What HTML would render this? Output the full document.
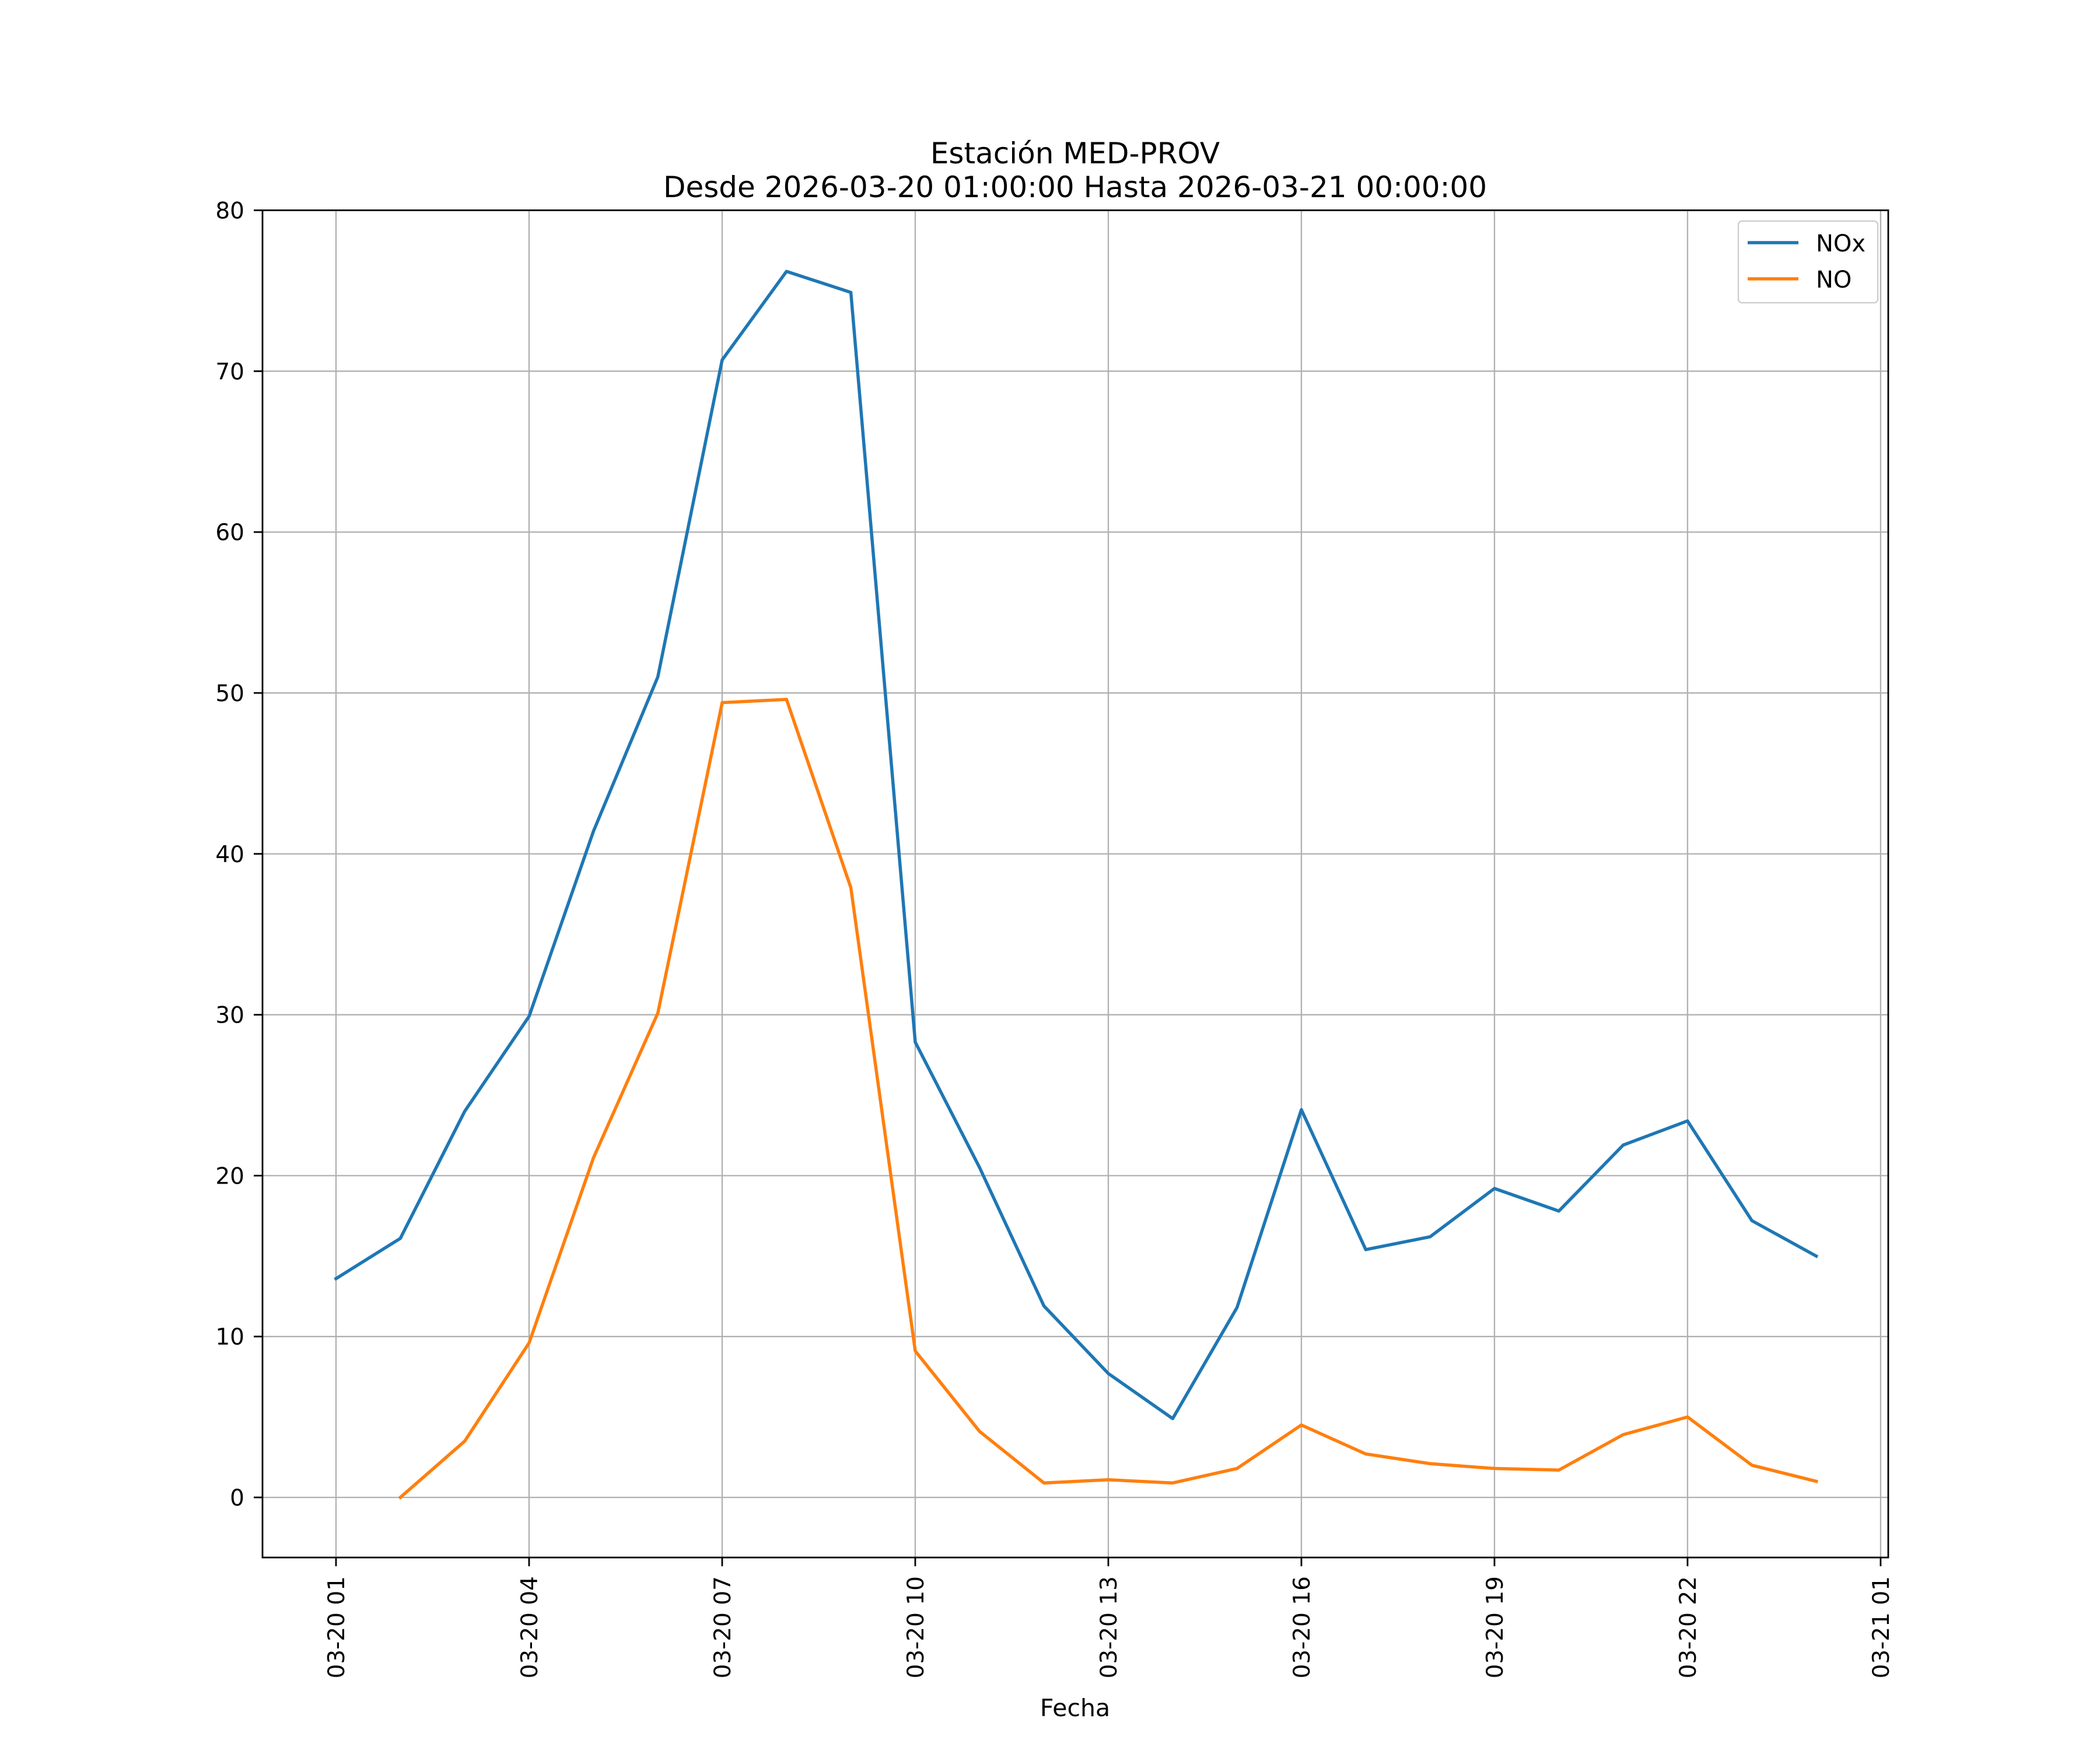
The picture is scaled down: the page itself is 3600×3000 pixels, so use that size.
<!DOCTYPE html>
<html><head><meta charset="utf-8"><style>
html,body{margin:0;padding:0;background:#fff;}
svg{display:block;font-family:"DejaVu Sans","Liberation Sans",sans-serif;}
</style></head><body>
<svg id="chart" width="3600" height="3000" viewBox="0 0 3600 3000">
<rect width="3600" height="3000" fill="#fff"/>
<text x="1843" y="280" font-size="50" text-anchor="middle">Estación MED-PROV</text>
<text x="1843" y="338" font-size="50" text-anchor="middle">Desde 2026-03-20 01:00:00 Hasta 2026-03-21 00:00:00</text>
<g id="grid"></g>
<g id="series"></g>
<rect x="450" y="360.5" width="2787" height="2309.5" fill="none" stroke="#000" stroke-width="2.8"/>
<g id="axes"></g>
<text x="1843" y="2942" font-size="41" text-anchor="middle">Fecha</text>
<g>
<rect x="2980" y="379" width="239" height="140" rx="6" fill="#fff" fill-opacity="0.8" stroke="#ccc" stroke-width="2.3"/>
<line x1="2996" y1="416" x2="3083" y2="416" stroke="#1f77b4" stroke-width="5.5"/>
<text x="3113" y="431" font-size="40">NOx</text>
<line x1="2996" y1="478" x2="3083" y2="478" stroke="#ff7f0e" stroke-width="5.5"/>
<text x="3113" y="493" font-size="40">NO</text>
</g>
</svg>
<script>
const hours = [1,2,3,4,5,6,7,8,9,10,11,12,13,14,15,16,17,18,19,20,21,22,23,24];
const noxValues = [13.6,16.1,24.0,29.9,41.4,51.0,70.7,76.2,74.9,28.3,20.5,11.9,7.7,4.9,11.8,24.1,15.4,16.2,19.2,17.8,21.9,23.4,17.2,15.0];
const noValues = [null,0.0,3.5,9.6,21.1,30.1,49.4,49.6,37.9,9.1,4.1,0.9,1.1,0.9,1.8,4.5,2.7,2.1,1.8,1.7,3.9,5.0,2.0,1.0];
const yTicks = [0,10,20,30,40,50,60,70,80];
const xTickHours = [1,4,7,10,13,16,19,22,25];
const xTickLabels = ["03-20 01","03-20 04","03-20 07","03-20 10","03-20 13","03-20 16","03-20 19","03-20 22","03-21 01"];

const NS = "http://www.w3.org/2000/svg";
const L = 450, R = 3237, T = 360.5, B = 2670;
const y0px = 2567, y80px = 360.5;
const x1px = 576, hourPx = 110.33;
function xs(h){ return x1px + (h-1)*hourPx; }
function ys(v){ return y0px + (y80px - y0px) * v / 80; }
function mk(tag, attrs, parent){
  const e = document.createElementNS(NS, tag);
  for (const k in attrs) e.setAttribute(k, attrs[k]);
  parent.appendChild(e); return e;
}
const grid = document.getElementById('grid');
const axes = document.getElementById('axes');
const series = document.getElementById('series');

yTicks.forEach(v => {
  const y = ys(v);
  const g = mk('line', {x1:L, x2:R, y1:y, y2:y, stroke:'#b0b0b0', 'stroke-width':2.3}, grid);
  
  
  const t = mk('line', {x1:L-15, x2:L, y1:y, y2:y, stroke:'#000', 'stroke-width':2.8}, axes);
  
  
  const lb = mk('text', {x:L-31, y:y+14, 'font-size':39, 'text-anchor':'end'}, axes);
  lb.textContent = String(v);
  
  
});
xTickHours.forEach((h, i) => {
  const x = xs(h);
  const g = mk('line', {x1:x, x2:x, y1:T, y2:B, stroke:'#b0b0b0', 'stroke-width':2.3}, grid);
  
  
  const t = mk('line', {x1:x, x2:x, y1:B, y2:B+15, stroke:'#000', 'stroke-width':2.8}, axes);
  
  
  const lb = mk('text', {x:0, y:0, 'font-size':39, 'text-anchor':'end', transform:`translate(${x+14},${B+32}) rotate(-90)`}, axes);
  lb.textContent = xTickLabels[i];
  
  
});
function drawLine(vals, color, name){
  let d = '';
  let started = false;
  vals.forEach((v, i) => {
    if (v === null) { started = false; return; }
    d += (started ? 'L' : 'M') + xs(hours[i]).toFixed(1) + ',' + ys(v).toFixed(1);
    started = true;
  });
  const p = mk('path', {d:d, fill:'none', stroke:color, 'stroke-width':5.5, 'stroke-linejoin':'round', 'stroke-linecap':'square'}, series);
  
  
}
drawLine(noxValues, '#1f77b4', 'nox-line');
drawLine(noValues, '#ff7f0e', 'no-line');
</script>
</body></html>
